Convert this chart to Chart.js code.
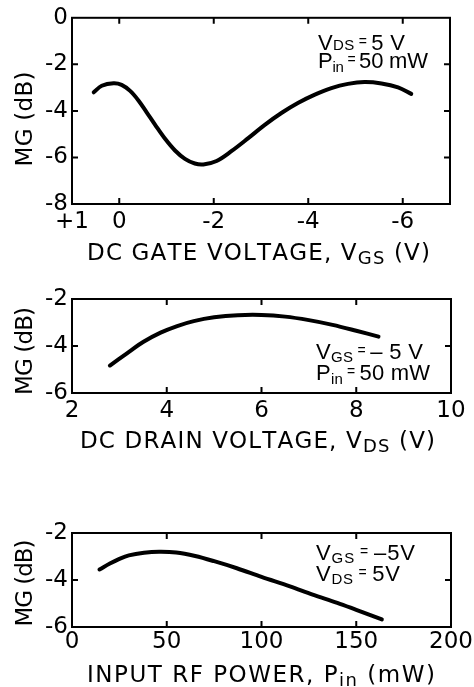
<!DOCTYPE html>
<html><head><meta charset="utf-8">
<script src="https://cdn.jsdelivr.net/npm/chart.js@4"></script>
<style>
html,body{margin:0;padding:0;background:#fff;}
body{width:474px;height:687px;position:relative;overflow:hidden;}
canvas{position:absolute;left:0;}
</style></head><body>
<canvas id="c1" width="474" height="280" style="top:0px"></canvas>
<canvas id="c2" width="474" height="180" style="top:280px"></canvas>
<canvas id="c3" width="474" height="227" style="top:460px"></canvas>
<script>
// ---- data ----
const gateVoltage = [0.54, 0.37, 0.12, -0.05, -0.23, -0.41, -0.58, -0.76, -0.97, -1.18, -1.39, -1.6, -1.78, -2.06, -2.38, -2.73, -3.08, -3.44, -3.79, -4.14, -4.49, -4.84, -5.19, -5.55, -5.9, -6.18];
const gateMG = [-3.2, -2.92, -2.81, -2.88, -3.14, -3.56, -4.06, -4.6, -5.2, -5.7, -6.06, -6.26, -6.3, -6.15, -5.72, -5.17, -4.6, -4.08, -3.65, -3.3, -3.02, -2.84, -2.76, -2.82, -2.99, -3.27];
const gateTicks = [1, 0, -2, -4, -6];
const gateTickLabels = ['+1', '0', '-2', '-4', '-6'];
const gateMGTicks = [0, -2, -4, -6, -8];

const drainVoltage = [2.8, 3.16, 3.51, 3.87, 4.22, 4.57, 5.0, 5.5, 6.0, 6.5, 7.0, 7.5, 8.0, 8.47];
const drainMG = [-4.83, -4.31, -3.82, -3.43, -3.15, -2.94, -2.78, -2.69, -2.68, -2.75, -2.9, -3.1, -3.35, -3.6];
const drainTicks = [2, 4, 6, 8, 10];
const drainTickLabels = ['2', '4', '6', '8', '10'];
const drainMGTicks = [-2, -4, -6];

const inputPower = [14.5, 20, 25, 30, 38, 46, 55, 65, 75, 87, 100, 115, 127, 140, 150, 163.5];
const powerMG = [-3.55, -3.3, -3.1, -2.95, -2.84, -2.8, -2.83, -2.98, -3.2, -3.5, -3.87, -4.27, -4.62, -4.97, -5.27, -5.68];
const powerTicks = [0, 50, 100, 150, 200];
const powerTickLabels = ['0', '50', '100', '150', '200'];
const powerMGTicks = [-2, -4, -6];

const yTitle = [{t: 'MG (dB)'}];
const gateXTitle = [{t: 'DC GATE VOLTAGE, V'}, {t: 'GS', sub: true}, {t: ' (V)'}];
const drainXTitle = [{t: 'DC DRAIN VOLTAGE, V'}, {t: 'DS', sub: true}, {t: ' (V)'}];
const powerXTitle = [{t: 'INPUT RF POWER, P'}, {t: 'in', sub: true}, {t: ' (mW)'}];
const EQ = {t: ' = ', size: 14, dy: -4};
const gateNote = [[{t: 'V'}, {t: 'DS', sub: true}, EQ, {t: '5 V'}], [{t: 'P'}, {t: 'in', sub: true}, EQ, {t: '50 mW'}]];
const drainNote = [[{t: 'V'}, {t: 'GS', sub: true}, EQ, {t: '\u2013 5 V'}], [{t: 'P'}, {t: 'in', sub: true}, EQ, {t: '50 mW'}]];
const powerNote = [[{t: 'V'}, {t: 'GS', sub: true}, EQ, {t: '\u20135V'}], [{t: 'V'}, {t: 'DS', sub: true}, EQ, {t: '5V'}]];

// ---- helpers ----
const FAM = '"DejaVu Sans", "Liberation Sans", sans-serif';
const NFAM = '"Liberation Sans", Arial, sans-serif';
function drawRich(ctx, segs, x, y, targetW, size, subSize, drop, fam) {
  fam = fam || FAM;
  const chars = [];
  segs.forEach(s => {
    for (const ch of s.t) chars.push({ch, sz: s.size || (s.sub ? subSize : size), dy: (s.dy || 0) + (s.sub ? drop : 0)});
  });
  let w0 = 0;
  chars.forEach(c => {
    ctx.font = c.sz + 'px ' + fam;
    c.w = ctx.measureText(c.ch).width; w0 += c.w;
  });
  let sp = chars.length > 1 ? (targetW - w0) / (chars.length - 1) : 0;
  let sx = 1;
  if (sp < -1) { sx = (targetW + (chars.length - 1)) / w0; sp = -1; }
  ctx.save();
  ctx.translate(x, y);
  ctx.scale(sx, 1);
  let cx = 0;
  chars.forEach(c => {
    ctx.font = c.sz + 'px ' + fam;
    ctx.fillText(c.ch, cx, c.dy);
    cx += c.w + sp;
  });
  ctx.restore();
}

function makeChart(id, cfg) {
  const ctxEl = document.getElementById(id);
  const H = ctxEl.height;
  const deco = {
    id: 'deco' + id,
    afterDraw(chart) {
      const ctx = chart.ctx;
      const a = chart.chartArea;
      const xs = chart.scales.x, ys = chart.scales.y;
      ctx.save();
      ctx.strokeStyle = '#000';
      ctx.fillStyle = '#000';
      ctx.lineWidth = 2;
      ctx.strokeRect(a.left, a.top, a.right - a.left, a.bottom - a.top);
      ctx.beginPath();
      const TL = 6;
      cfg.xTicks.forEach(v => {
        const p = xs.getPixelForValue(v);
        if (p > a.left + 2 && p < a.right - 2) {
          ctx.moveTo(p, a.bottom); ctx.lineTo(p, a.bottom - TL);
          ctx.moveTo(p, a.top); ctx.lineTo(p, a.top + TL);
        }
      });
      cfg.yTicks.forEach(v => {
        const p = ys.getPixelForValue(v);
        if (p > a.top + 2 && p < a.bottom - 2) {
          ctx.moveTo(a.left, p); ctx.lineTo(a.left + TL, p);
          ctx.moveTo(a.right, p); ctx.lineTo(a.right - TL, p);
        }
      });
      ctx.stroke();
      ctx.textBaseline = 'alphabetic';
      ctx.textAlign = 'left';
      const xt = cfg.xTitlePos;
      drawRich(ctx, cfg.xTitle, xt.x, xt.y, xt.w, 23, 18, 4);
      const yt = cfg.yTitlePos;
      ctx.save();
      ctx.translate(yt.x, yt.cy + yt.w / 2);
      ctx.rotate(-Math.PI / 2);
      drawRich(ctx, yTitle, 0, 0, yt.w, 23, 18, 4);
      ctx.restore();
      cfg.note.forEach((line, i) => {
        const n = cfg.notePos[i];
        drawRich(ctx, line, n.x, n.y, n.w, 22, 15, n.drop, NFAM);
      });
      ctx.restore();
    }
  };
  return new Chart(ctxEl, {
    type: 'scatter',
    data: {
      datasets: [{
        data: cfg.xData.map((x, i) => ({x, y: cfg.yData[i]})),
        showLine: true,
        borderColor: '#000',
        borderWidth: 4,
        pointRadius: 0,
        tension: 0.35,
        borderCapStyle: 'round',
        borderJoinStyle: 'round'
      }]
    },
    options: {
      responsive: false,
      animation: false,
      devicePixelRatio: 1,
      layout: {padding: {left: 0, right: 474 - cfg.plot.right, top: cfg.plot.top, bottom: 0}},
      plugins: {legend: {display: false}, tooltip: {enabled: false}},
      scales: {
        x: {
          type: 'linear', min: cfg.xMin, max: cfg.xMax, reverse: !!cfg.reverse,
          grid: {display: false, drawTicks: false}, border: {display: false},
          afterBuildTicks: s => { s.ticks = cfg.xTicks.map(v => ({value: v})); },
          afterFit: s => { s.height = H - cfg.plot.bottom; },
          ticks: {
            autoSkip: false, maxRotation: 0, padding: cfg.xPad, color: '#000',
            font: {family: FAM, size: 23},
            callback: v => cfg.xLabels[cfg.xTicks.indexOf(v)]
          }
        },
        y: {
          type: 'linear', min: cfg.yMin, max: cfg.yMax,
          grid: {display: false, drawTicks: false}, border: {display: false},
          afterBuildTicks: s => { s.ticks = cfg.yTicks.map(v => ({value: v})); },
          afterFit: s => { s.width = cfg.plot.left; },
          ticks: {
            autoSkip: false, padding: 4, color: '#000',
            font: {family: FAM, size: 23},
            callback: v => String(v)
          }
        }
      }
    },
    plugins: [deco]
  });
}

makeChart('c1', {
  xData: gateVoltage, yData: gateMG, xMin: -7, xMax: 1, reverse: true,
  xTicks: gateTicks, xLabels: gateTickLabels, yMin: -8, yMax: 0, yTicks: gateMGTicks,
  plot: {left: 72, right: 450, top: 15, bottom: 204}, xPad: 4,
  xTitle: gateXTitle, xTitlePos: {x: 87, y: 260, w: 343},
  yTitlePos: {x: 31.5, cy: 119, w: 95},
  note: gateNote, notePos: [{x: 318, y: 50, w: 87, drop: 0}, {x: 318, y: 68, w: 110, drop: 4}]
});
makeChart('c2', {
  xData: drainVoltage, yData: drainMG, xMin: 2, xMax: 10,
  xTicks: drainTicks, xLabels: drainTickLabels, yMin: -6, yMax: -2, yTicks: drainMGTicks,
  plot: {left: 72, right: 451, top: 19, bottom: 113}, xPad: 4,
  xTitle: drainXTitle, xTitlePos: {x: 80, y: 168, w: 355},
  yTitlePos: {x: 31.5, cy: 71, w: 88},
  note: drainNote, notePos: [{x: 316, y: 79, w: 107, drop: 3}, {x: 316, y: 100, w: 114, drop: 4}]
});
makeChart('c3', {
  xData: inputPower, yData: powerMG, xMin: 0, xMax: 200,
  xTicks: powerTicks, xLabels: powerTickLabels, yMin: -6, yMax: -2, yTicks: powerMGTicks,
  plot: {left: 72, right: 451, top: 73, bottom: 167}, xPad: 1,
  xTitle: powerXTitle, xTitlePos: {x: 87, y: 222, w: 348},
  yTitlePos: {x: 31.5, cy: 123, w: 87},
  note: powerNote, notePos: [{x: 316, y: 100, w: 99, drop: 3}, {x: 316, y: 121, w: 84, drop: 3}]
});
</script>
</body></html>
